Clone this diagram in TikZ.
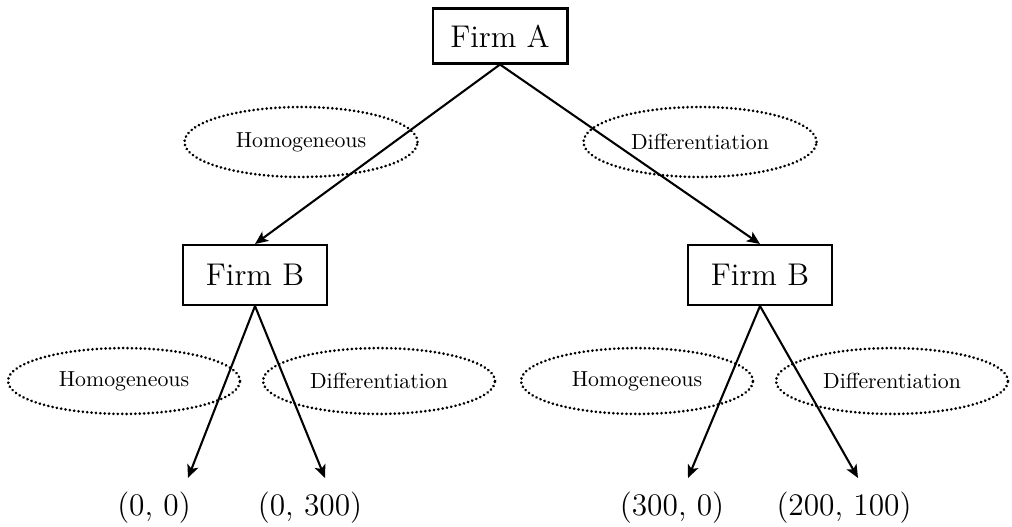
\documentclass[tikz,border=0pt]{standalone}
\usetikzlibrary{shapes.geometric,arrows.meta}
\begin{document}
\begin{tikzpicture}[x=0.4587pt,y=-0.4587pt,
  firm/.style={draw,line width=0.95pt,rectangle,inner sep=0pt,font=\Large},
  choice/.style={draw,ellipse,inner sep=0pt,line width=1.35pt,line cap=round,
    dash pattern=on 0.01pt off 2pt,font=\normalsize},
  topchoice/.style={choice,minimum width=106.9pt,minimum height=32.1pt},
  lowchoice/.style={choice,minimum width=106.4pt,minimum height=30.2pt},
  edge/.style={line width=0.95pt,-{Stealth[length=6pt,width=5.2pt,inset=1.5pt]}},
  payoff/.style={anchor=base,inner sep=0pt,font=\Large}]
\useasboundingbox (0,0) rectangle (1012,526);
% decision nodes
\node[firm,minimum width=61.9pt,minimum height=25.2pt] (A) at (500,36) {Firm A};
\node[firm,minimum width=66pt,minimum height=27.5pt] (B1) at (255,275) {Firm B};
\node[firm,minimum width=66pt,minimum height=27.5pt] (B2) at (760,275) {Firm B};
% choice labels
\node[topchoice] (hA) at (301,142) {Homogeneous};
\node[topchoice] (dA) at (700,142) {Differentiation};
\node[lowchoice] (hB1) at (124,381) {Homogeneous};
\node[lowchoice] (dB1) at (379,381) {Differentiation};
\node[lowchoice] (hB2) at (637,381) {Homogeneous};
\node[lowchoice] (dB2) at (892,381) {Differentiation};
% leaves
\coordinate (l1) at (188,478);
\coordinate (l2) at (325,478);
\coordinate (l3) at (688,478);
\coordinate (l4) at (858,478);
\node[payoff] (p1) at (154,515) {(0, 0)};
\node[payoff] (p2) at (310,515) {(0, 300)};
\node[payoff] (p3) at (672,515) {(300, 0)};
\node[payoff] (p4) at (844,515) {(200, 100)};
% edges
\draw[edge] (A.south) -- (B1.north);
\draw[edge] (A.south) -- (B2.north);
\draw[edge] (B1.south) -- (l1);
\draw[edge] (B1.south) -- (l2);
\draw[edge] (B2.south) -- (l3);
\draw[edge] (B2.south) -- (l4);
\end{tikzpicture}
\end{document}
